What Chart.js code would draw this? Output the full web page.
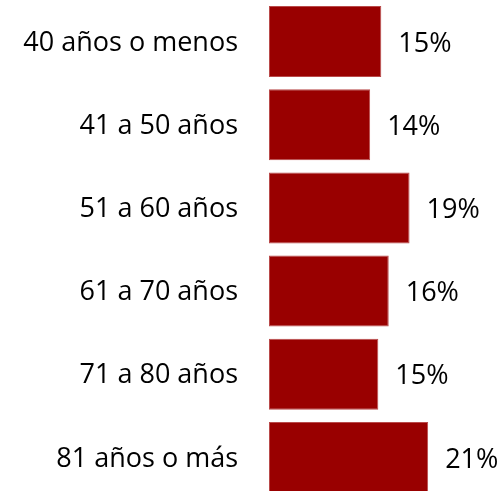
<!DOCTYPE html>
<html>
<head>
<meta charset="utf-8">
<script src="https://cdn.jsdelivr.net/npm/chart.js@4/dist/chart.umd.min.js"></script>
<style>
  html, body { margin: 0; padding: 0; background: #fff; overflow: hidden; }
  canvas { display: block; }
</style>
</head>
<body>
<canvas id="c" width="504" height="499" style="width:504px;height:499px"></canvas>
<script>
const categories = ["40 años o menos", "41 a 50 años", "51 a 60 años", "61 a 70 años", "71 a 80 años", "81 años o más"];
const values = [15.1, 13.6, 18.9, 16.1, 14.7, 21.4];
const valueLabels = ["15%", "14%", "19%", "16%", "15%", "21%"];

const FONT = "'Open Sans', sans-serif";

const labelPlugin = {
  id: 'valueLabels',
  afterDatasetsDraw(chart) {
    const ctx = chart.ctx;
    const meta = chart.getDatasetMeta(0);
    ctx.save();
    ctx.font = "27px " + FONT;
    ctx.fillStyle = "#000";
    ctx.textAlign = "left";
    ctx.textBaseline = "middle";
    meta.data.forEach((bar, i) => {
      ctx.fillText(valueLabels[i], bar.x + 17, bar.y + 2.5);
    });
    ctx.restore();
  }
};

new Chart(document.getElementById('c'), {
  type: 'bar',
  data: {
    labels: categories,
    datasets: [{
      data: values,
      backgroundColor: '#990000',
      borderColor: '#b94a4a',
      borderWidth: 1,
      borderSkipped: false,
      barPercentage: 0.854,
      categoryPercentage: 1.0
    }]
  },
  options: {
    indexAxis: 'y',
    responsive: false,
    animation: false,
    layout: { padding: 0 },
    plugins: { legend: { display: false }, tooltip: { enabled: false } },
    scales: {
      x: { display: false, min: 0, max: 31.6 },
      y: {
        grid: { display: false, drawTicks: false },
        border: { display: false },
        ticks: {
          color: '#000',
          padding: 31,
          labelOffset: 1.5,
          font: { family: FONT, size: 27 }
        },
        afterFit(scale) {
          scale.width = 269;
          scale.paddingTop = 0;
          scale.paddingBottom = 0;
        }
      }
    }
  },
  plugins: [labelPlugin]
});
</script>
</body>
</html>
